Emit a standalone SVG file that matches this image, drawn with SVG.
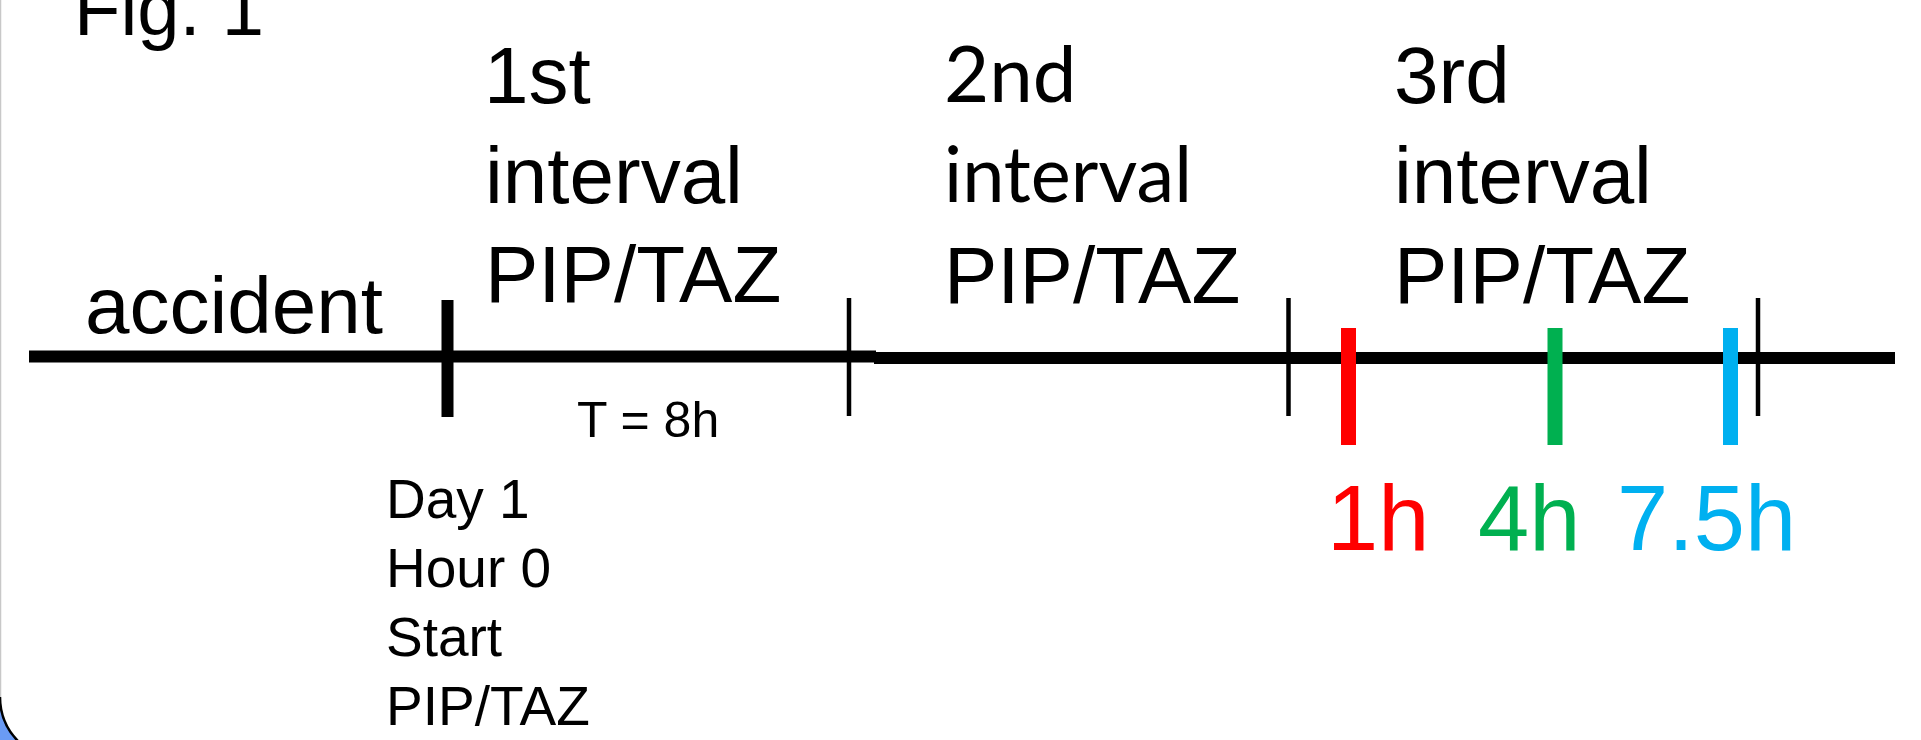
<svg xmlns="http://www.w3.org/2000/svg" width="1921" height="740" viewBox="0 0 1921 740">
  <style>
    .t { font-family: "Liberation Sans", Arial, sans-serif; fill: #000; }
    .c { font-family: Lato, "Liberation Sans", sans-serif; fill: #000; }
    .big { font-size: 80px; }
    .small { font-size: 55px; }
    .tick { stroke: #000; stroke-width: 4.5; }
    .bar { stroke-width: 15; }
    .hr { font-family: "Liberation Sans", Arial, sans-serif; font-size: 92px; }
  </style>

  <!-- page background and frame corner -->
  <rect x="0" y="0" width="1921" height="740" fill="#fff"/>
  <line x1="0.5" y1="0" x2="0.5" y2="697" stroke="#c8c8c8" stroke-width="1.5"/>
  <path d="M0,697 A63,63 0 0 0 63,760 L0,760 Z" fill="#6a9bf5"/>
  <path d="M0,697 A63,63 0 0 0 63,760" fill="none" stroke="#000" stroke-width="2.5"/>

  <!-- title -->
  <text id="title" class="t" x="74" y="35" font-size="76">Fig. 1</text>

  <!-- time axis -->
  <g id="connectors">
    <line x1="29" y1="356.5" x2="876" y2="356.5" stroke="#000" stroke-width="12"/>
    <line x1="874" y1="358" x2="1895" y2="358" stroke="#000" stroke-width="12"/>
    <line x1="447.5" y1="300" x2="447.5" y2="417" stroke="#000" stroke-width="12"/>
    <line class="tick" x1="849" y1="298" x2="849" y2="416"/>
    <line class="tick" x1="1288.5" y1="298" x2="1288.5" y2="416"/>
    <line class="tick" x1="1758" y1="298" x2="1758" y2="416"/>
    <line class="bar" x1="1348.5" y1="328" x2="1348.5" y2="445" stroke="#ff0000"/>
    <line class="bar" x1="1555" y1="328" x2="1555" y2="445" stroke="#00b050"/>
    <line class="bar" x1="1730.5" y1="328" x2="1730.5" y2="445" stroke="#00b0f0"/>
  </g>

  <g id="accident">
    <text class="t" x="85" y="333" font-size="80">accident</text>
  </g>

  <g id="interval1">
    <text class="t big" x="484" y="103">1st</text>
    <text class="t big" x="485" y="203">interval</text>
    <text class="t big" x="485" y="302" font-size="81">PIP/TAZ</text>
  </g>

  <g id="interval2">
    <text class="c" x="944" y="102" font-size="78">2nd</text>
    <text class="c" x="944" y="202" font-size="78" textLength="248" lengthAdjust="spacingAndGlyphs">interval</text>
    <text class="t big" x="944" y="303">PIP/TAZ</text>
  </g>

  <g id="interval3">
    <text class="t big" x="1394" y="103">3rd</text>
    <text class="t big" x="1394" y="203">interval</text>
    <text class="t big" x="1394" y="303">PIP/TAZ</text>
  </g>

  <g id="period">
    <text class="t" x="577" y="437" font-size="50">T = 8h</text>
  </g>

  <g id="start">
    <text class="t small" x="386" y="518">Day 1</text>
    <text class="t small" x="386" y="587">Hour 0</text>
    <text class="t small" x="386" y="656">Start</text>
    <text class="t small" x="386" y="725">PIP/TAZ</text>
  </g>

  <g id="samples">
    <text class="hr" x="1327" y="550" fill="#ff0000">1h</text>
    <text class="hr" x="1478" y="550" fill="#00b050">4h</text>
    <text class="hr" x="1617" y="550" fill="#00b0f0">7.5h</text>
  </g>
</svg>
